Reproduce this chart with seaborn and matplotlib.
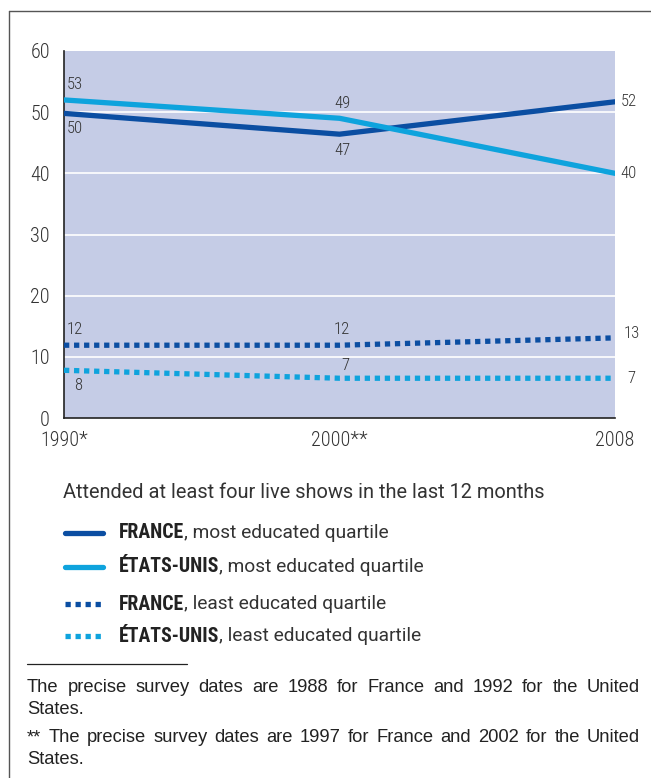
import pandas as pd
import matplotlib.pyplot as plt
import seaborn as sns
from matplotlib.lines import Line2D

# data
periods = ["1990*", "2000**", "2008"]
france_most = [49.8, 46.4, 51.7]
us_most = [52.0, 49.0, 40.0]
france_least = [11.9, 11.9, 13.1]
us_least = [7.8, 6.5, 6.5]

france_most_lbl = ["50", "47", "52"]
us_most_lbl = ["53", "49", "40"]
france_least_lbl = ["12", "12", "13"]
us_least_lbl = ["8", "7", "7"]

legend_bold = ["FRANCE", "ÉTATS-UNIS", "FRANCE", "ÉTATS-UNIS"]
legend_rest = [", most educated quartile", ", most educated quartile",
               ", least educated quartile", ", least educated quartile"]
legend_title = "Attended at least four live shows in the last 12 months"
notes = ["The precise survey dates are 1988 for France and 1992 for the United",
         "States.",
         "** The precise survey dates are 1997 for France and 2002 for the United",
         "States."]
notes_justify = [True, False, True, False]

DARK = "#0b4ea2"
LIGHT = "#0ea3dd"
TXT = "#333333"
BG = "#c5cce6"
COND = ["Roboto Condensed", "DejaVu Sans"]
ROBO = ["Roboto", "DejaVu Sans"]
HELV = ["Liberation Sans", "DejaVu Sans"]

sns.set_style("white")
plt.rcParams["font.family"] = COND

fig = plt.figure(figsize=(6.51, 7.78), dpi=100)
W, H = 651, 778
ax = fig.add_axes([64 / W, 1 - 418 / H, 551 / W, 367 / H])
ax.set_facecolor(BG)

x = list(range(len(periods)))
series = [
    (france_most, DARK, "-"),
    (us_most, LIGHT, "-"),
    (france_least, DARK, ":"),
    (us_least, LIGHT, ":"),
]
for vals, col, ls in series:
    df = pd.DataFrame({"x": x, "y": vals})
    sns.lineplot(data=df, x="x", y="y", ax=ax, color=col, lw=3.8)
    line = ax.lines[-1]
    if ls == ":":
        line.set_dashes((1.0, 0.9))
        line.set_dash_capstyle("butt")
    line.set_zorder(3)

ax.set_xlim(0, 2)
ax.set_ylim(0, 60)
ax.set_yticks(range(0, 61, 10))
ax.set_xticks(x)
ax.set_xticklabels(periods)
ax.set_xlabel("")
ax.set_ylabel("")
for y in range(10, 60, 10):
    ax.axhline(y, color="white", lw=1.2, zorder=1)
for s in ["top", "right"]:
    ax.spines[s].set_visible(False)
for s in ["left", "bottom"]:
    ax.spines[s].set_color("#222222")
    ax.spines[s].set_linewidth(1.2)
ax.tick_params(axis="both", direction="out", length=5, width=1.1, color="#222222",
               labelsize=14.5, labelcolor=TXT, pad=4)
ax.tick_params(axis="y", pad=5)
for t in ax.get_xticklabels() + ax.get_yticklabels():
    t.set_fontweight("light")

lab = dict(fontsize=12, color=TXT, ha="center", va="center", textcoords="offset points",
           fontweight="light")
# (values, labels, offsets per point)
offs = [
    (france_most, france_most_lbl, [(8, -11), (2, -12), (4, 0)]),
    (us_most, us_most_lbl, [(8, 11), (2, 11), (4, 0)]),
    (france_least, france_least_lbl, [(8, 11), (2, 11), (6, 3)]),
    (us_least, us_least_lbl, [(10, -11), (4, 9), (9, 0)]),
]
for vals, lbls, off in offs:
    for i, (v, t, o) in enumerate(zip(vals, lbls, off)):
        a = ax.annotate(t, (i, v), xytext=o, **lab)
        if i == 2:
            a.set_ha("left")
        a.set_annotation_clip(False)

# legend drawn by hand (mixed bold text)
LFS = 13.8
fig.text(63 / W, 1 - 493 / H, legend_title, fontsize=14.4, color=TXT, va="center", family=ROBO)
rows = [533, 567, 604, 636]
styles = [(DARK, "-"), (LIGHT, "-"), (DARK, ":"), (LIGHT, ":")]
fig.canvas.draw()
r = fig.canvas.get_renderer()
for yy, (col, ls), b, rest in zip(rows, styles, legend_bold, legend_rest):
    yf = 1 - yy / H
    l = Line2D([65 / W, 103 / W], [yf, yf], color=col, lw=3.8, transform=fig.transFigure)
    if ls == ":":
        l.set_dashes((1.0, 0.9))
        l.set_dash_capstyle("butt")
    fig.add_artist(l)
    tb = fig.text(119 / W, yf, b, fontsize=14.2, fontweight="bold", color="#222222",
                  va="center", family=COND)
    bb = tb.get_window_extent(r)
    fig.text(bb.x1 / W, yf, rest, fontsize=LFS, color=TXT, va="center", family=ROBO)

# footnotes, justified between x=27 and x=640
fig.add_artist(Line2D([27 / W, 187 / W], [1 - 664 / H] * 2, color="#222222", lw=0.9,
                      transform=fig.transFigure))
x0, x1 = 27, 640
NFS = 13.2
for t, yy, just in zip(notes, [688, 710, 738, 759], notes_justify):
    yf = 1 - yy / H
    if not just:
        fig.text(x0 / W, yf, t, fontsize=NFS, color="#222222", va="center", family=HELV)
        continue
    words = t.split(" ")
    arts = [fig.text(0, yf, w_, fontsize=NFS, color="#222222", va="center", family=HELV)
            for w_ in words]
    widths = [a.get_window_extent(r).width for a in arts]
    gap = (x1 - x0 - sum(widths)) / (len(words) - 1)
    pos = x0
    for a, wd in zip(arts, widths):
        a.set_x(pos / W)
        pos += wd + gap

# frame around the figure
fig.add_artist(Line2D([9 / W, 9 / W], [0, 1 - 11 / H], color="#555555", lw=1.0,
                      transform=fig.transFigure))
fig.add_artist(Line2D([9 / W, 1], [1 - 11 / H] * 2, color="#555555", lw=1.0,
                      transform=fig.transFigure))

fig.savefig("out.png", dpi=100)
